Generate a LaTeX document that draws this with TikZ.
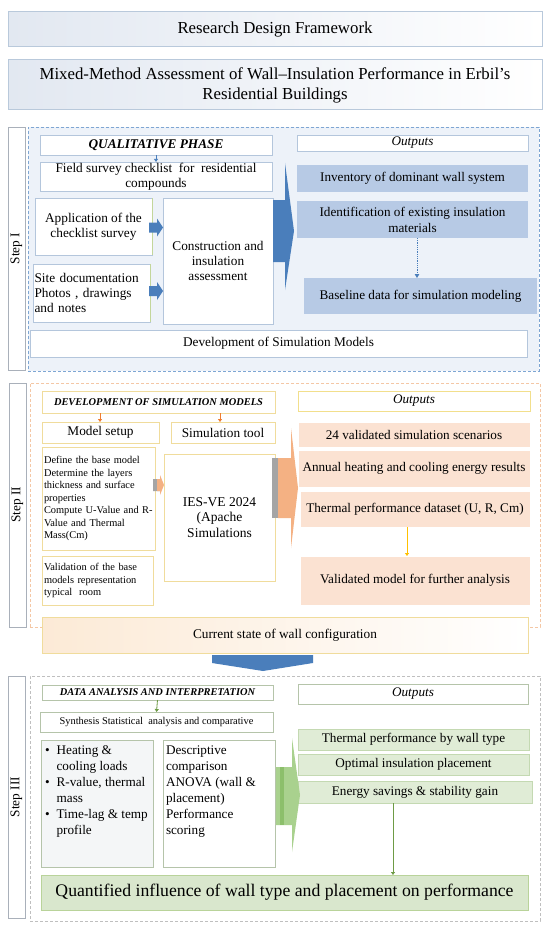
\documentclass[tikz,border=0pt]{standalone}
\usepackage{fontspec}
\setmainfont{Liberation Serif}
\usetikzlibrary{arrows.meta,calc}
\definecolor{tbord}{HTML}{B9C9DB}
\definecolor{tleft}{HTML}{E2E8F1}
\definecolor{sOneFrame}{HTML}{7EA6D3}
\definecolor{sOneBg}{HTML}{EDF2F9}
\definecolor{sOneBord}{HTML}{B4C6DC}
\definecolor{sOneOut}{HTML}{B7CAE5}
\definecolor{blueArrow}{HTML}{4A7EBB}
\definecolor{oliveEdge}{HTML}{C3D69B}
\definecolor{sTwoFrame}{HTML}{F4C7A5}
\definecolor{sTwoBord}{HTML}{F0DC9C}
\definecolor{sTwoOut}{HTML}{FBE2D2}
\definecolor{curLeft}{HTML}{FCEAD6}
\definecolor{orangeArrow}{HTML}{F4B183}
\definecolor{grayArrow}{HTML}{A5A5A5}
\definecolor{orangeTip}{HTML}{ED7D31}
\definecolor{yellowArrow}{HTML}{FFC000}
\definecolor{sThreeFrame}{HTML}{BFBFBF}
\definecolor{sThreeBord}{HTML}{B5C4AA}
\definecolor{sThreeOut}{HTML}{E0ECD6}
\definecolor{sThreeOutBord}{HTML}{C4D9B2}
\definecolor{quantFill}{HTML}{D9E7CD}
\definecolor{quantBord}{HTML}{B9D39A}
\definecolor{greenArrow}{HTML}{A9D18E}
\definecolor{greenDark}{HTML}{8CBF6B}
\definecolor{greenTip}{HTML}{6E9B45}
\definecolor{labBord}{HTML}{A9B0BA}
\definecolor{bulFill}{HTML}{F4F6F7}
\newcommand{\fT}{\fontsize{16.8}{20}\selectfont}
\newcommand{\fN}{\fontsize{13.3}{15}\selectfont}
\newcommand{\fO}{\fontsize{13.2}{16}\selectfont}
\newcommand{\fS}{\fontsize{10.4}{12.5}\selectfont}
\newcommand{\fH}{\fontsize{10.4}{12}\selectfont\bfseries\itshape}
\newcommand{\fI}{\fontsize{13.5}{15.5}\selectfont}
\newcommand{\fB}{\fontsize{13.2}{16}\selectfont}
\newcommand{\fQ}{\fontsize{17.7}{22}\selectfont}
\newcommand{\bx}[7]{\node[#6, minimum width={#4-#2}, minimum height={#5-#3}] (#1) at ({(#2+#4)/2},{(#3+#5)/2}) {#7};}
\newcommand{\harrow}[6]{\fill[#1] let \p1=#2, \p2=#3 in (\x1,\y1-#4pt) -- (\x2-#6pt,\y1-#4pt) -- (\x2-#6pt,\y1-#5pt) -- (\x2,\y1) -- (\x2-#6pt,\y1+#5pt) -- (\x2-#6pt,\y1+#4pt) -- (\x1,\y1+#4pt) -- cycle;}
\begin{document}
\begin{tikzpicture}[x=1pt,y=-1pt,
  every node/.style={inner sep=0pt, outer sep=0pt},
  box/.style={draw, line width=0.7pt, align=center, inner sep=1pt, font=\fN},
  titlebox/.style={box, draw=tbord, line width=1pt, left color=tleft, right color=white, font=\fT},
  lab/.style={draw=labBord, fill=white, line width=0.8pt},
  b1/.style={box, draw=sOneBord, fill=white},
  o1/.style={box, draw=none, fill=sOneOut, font=\fO},
  b2/.style={box, draw=sTwoBord, fill=white},
  o2/.style={box, draw=white, fill=sTwoOut, font=\fO},
  b3/.style={box, draw=sThreeBord, fill=white},
  o3/.style={box, draw=sThreeOutBord, fill=sThreeOut, font=\fO},
  tip/.style={-{Triangle[width=4pt,length=3pt]}, line width=0.8pt},
  steplabel/.style={rotate=90, font=\fN}
]
\useasboundingbox (0,0) rectangle (550,928);
\fill[white] (0,0) rectangle (550,928);

% Titles
\bx{t1}{8}{12}{542}{47}{titlebox}{Research Design Framework}
\bx{t2}{8}{60}{542}{110}{titlebox}{Mixed-Method Assessment of Wall–Insulation Performance in Erbil’s\\Residential Buildings}

% ---------------- Step I
\bx{s1frame}{28}{127}{539}{371}{draw=sOneFrame, dash pattern=on 3pt off 2pt, line width=0.8pt, fill=sOneBg}{}
\bx{s1lab}{8}{127}{25}{370}{lab}{}
\node[steplabel] at (s1lab) {Step I};
\bx{qual}{40}{135}{272}{155}{b1, font=\fN\bfseries\itshape}{QUALITATIVE PHASE}
\bx{out1}{297}{135}{528}{151}{b1, font=\fO\itshape}{Outputs}
\bx{field}{40}{162}{272}{191}{b1}{Field survey checklist\ \ for\ \ residential\\compounds}
\bx{app}{35}{198}{152}{255}{b1}{Application of the\\checklist survey}
\bx{site}{33}{264}{150}{322}{b1, text width=114, align=left}{Site documentation\\Photos , drawings\\and notes}
\draw[oliveEdge, line width=0.8pt] (app.north east) -- (app.south east);
\draw[oliveEdge, line width=0.8pt] (site.north east) -- (site.south east);
\bx{cons}{163}{198}{273}{324}{b1}{Construction and\\insulation\\assessment}
\bx{inv}{297}{165}{528}{192}{o1}{Inventory of dominant wall system}
\bx{ident}{297}{201}{528}{238}{o1}{Identification of existing insulation\\materials}
\bx{base}{304}{278}{537}{314}{o1}{Baseline data for simulation modeling}
\bx{dev}{30}{330}{527}{357}{b1}{Development of Simulation Models}
\draw[blueArrow, tip] (qual.south) -- (field.north);
\harrow{blueArrow}{($(app.east)+(-3,1)$)}{($(cons.west|-app.east)+(0,1)$)}{5}{9}{6}
\harrow{blueArrow}{($(site.east)+(-1,-2)$)}{($(cons.west|-site.east)+(0,-2)$)}{5}{9}{6}
\fill[blueArrow] (273,200) -- (285,200) -- (285,163) -- (294,231) -- (285,290) -- (285,262) -- (273,262) -- cycle;
\coordinate (xdot) at (417,0);
\draw[blueArrow, densely dotted, line width=0.8pt, -{Triangle[width=4.5pt,length=4pt]}] (ident.south -| xdot) -- (base.north -| xdot);

% ---------------- Step II
\bx{s2frame}{30}{383}{540}{627}{draw=sTwoFrame, densely dashed, line width=0.8pt, fill=white}{}
\bx{s2lab}{9}{383}{26}{627}{lab}{}
\node[steplabel] at (s2lab) {Step II};
\bx{devsim}{42}{391}{275}{413}{b2, font=\fH}{DEVELOPMENT OF SIMULATION MODELS}
\bx{ms}{42}{422}{159}{443}{b2}{Model setup}
\bx{st}{171}{422}{275}{443}{b2}{Simulation tool}
\bx{def}{42}{447}{155}{550}{b2, font=\fS, text width=109, align=left}{Define the base model\\Determine the layers\\thickness and surface\\properties\\Compute U-Value and R-\\Value and Thermal\\Mass(Cm)}
\bx{val}{42}{556}{153}{605}{b2, font=\fS, text width=107, align=left}{Validation of the base\\models representation\\typical\ \ room}
\bx{ies}{164}{454}{275}{581}{b2, font=\fI}{IES-VE 2024\\(Apache\\Simulations}
\bx{out2}{298}{391}{530}{411}{b2, draw=sTwoBord!90!yellow, font=\fO\itshape}{Outputs}
\bx{v24}{298}{422}{530}{447}{o2}{24 validated simulation scenarios}
\bx{ann}{298}{450}{530}{487}{o2}{Annual heating and cooling energy results}
\bx{tpd}{300}{491}{530}{527}{o2}{Thermal performance dataset (U, R, Cm)}
\bx{vm}{300}{556}{530}{605}{o2}{Validated model for further analysis}
\bx{cur}{42}{617}{528}{653}{b2, left color=curLeft, right color=white}{Current state of wall configuration}
\draw[orangeTip, tip] ($(devsim.south west)+(58,0)$) -- ($(ms.north west)+(58,0)$);
\draw[orangeTip, tip] ($(devsim.south west)+(178,0)$) -- ($(st.north west)+(49,0)$);
\harrow{grayArrow}{($(def.east)+(-2,-13.5)$)}{($(ies.west|-def.east)+(-3,-13.5)$)}{6}{6}{0.1}
\harrow{orangeArrow}{($(def.east)+(2,-13.5)$)}{($(ies.west|-def.east)+(0,-13.5)$)}{6}{10}{4}
\fill[grayArrow] (272,458) rectangle (280,518);
\fill[orangeArrow] (278,458) -- (291,458) -- (291,428) -- (298,488) -- (291,548) -- (291,518) -- (278,518) -- cycle;
\coordinate (xyel) at (407,0);
\draw[yellowArrow, tip] (tpd.south -| xyel) -- (vm.north -| xyel);

% chevron between steps
\fill[blueArrow] (212,655) -- (313,655) -- (313,663) -- (263,671) -- (212,663) -- cycle;

% ---------------- Step III
\bx{s3frame}{30}{676}{540}{921}{draw=sThreeFrame, densely dashed, line width=0.8pt, fill=white}{}
\bx{s3lab}{8}{676}{25}{918}{lab}{}
\node[steplabel] at (s3lab) {Step III};
\bx{data}{42}{685}{273}{700}{b3, font=\fH}{DATA ANALYSIS AND INTERPRETATION}
\bx{syn}{40}{712}{273}{732}{b3, font=\fS}{Synthesis Statistical\ \ analysis and comparative}
\bx{bul}{41}{740}{153}{867}{b3, fill=bulFill}{}
\bx{desc}{163}{740}{275}{867}{b3, fill=white}{}
\node[anchor=north west, font=\fB] (bultext) at ($(bul.north west)+(4,3)$) {\begin{tabular}{@{}l@{\hspace{7pt}}l@{}}\textbullet & Heating \&\\ & cooling loads\\ \textbullet & R-value, thermal\\ & mass\\ \textbullet & Time-lag \& temp\\ & profile\end{tabular}};
\node[anchor=north west, font=\fB] (desctext) at ($(desc.north west)+(3,3)$) {\begin{tabular}{@{}l@{}}Descriptive\\comparison\\ANOVA (wall \&\\placement)\\Performance\\scoring\end{tabular}};
\bx{out3}{298}{684}{528}{704}{b3, font=\fO\itshape}{Outputs}
\bx{tpw}{298}{729}{529}{750}{o3}{Thermal performance by wall type}
\bx{opt}{298}{754}{529}{775}{o3}{Optimal insulation placement}
\bx{ene}{298}{781}{532}{803}{o3}{Energy savings \& stability gain}
\bx{quant}{41}{875}{528}{910}{box, draw=quantBord, line width=1pt, fill=quantFill, font=\fQ}{Quantified influence of wall type and placement on performance}
\draw[greenTip, tip] (data.south) -- (syn.north);
\fill[greenArrow] (276,767) -- (292,767) -- (292,738) -- (300,795) -- (292,852) -- (292,825) -- (276,825) -- cycle;
\fill[greenDark] (280,767) rectangle (284,825);
\coordinate (xgr) at (393,0);
\draw[greenTip, tip] (ene.south -| xgr) -- (quant.north -| xgr);
\end{tikzpicture}
\end{document}
